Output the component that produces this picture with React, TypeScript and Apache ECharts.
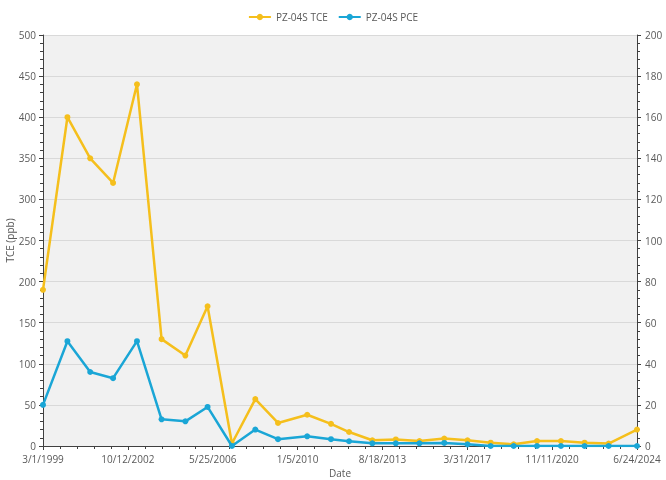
import React, { useEffect, useRef } from "react";
import * as echarts from "echarts";

const sampleDates = [
  "1999-03-01", "2000-03-15", "2001-03-05", "2002-02-24", "2003-03-03", "2004-03-20",
  "2005-03-25", "2006-03-06", "2007-03-20", "2008-03-18", "2009-03-06", "2010-06-04",
  "2011-06-09", "2012-03-17", "2013-03-14", "2014-03-14", "2015-03-17", "2016-04-06",
  "2017-04-03", "2018-03-30", "2019-03-23", "2020-03-20", "2021-03-28", "2022-03-31",
  "2023-04-09", "2024-06-24",
];
const tceValues = [190, 400, 350, 320, 440, 130, 110, 170, 3, 57, 28, 38, 27, 17, 7, 8, 6, 9, 7, 4, 2, 6, 6, 4, 3, 20];
const pceValues = [20, 51, 36, 33, 51, 13, 12, 19, 0, 8, 3.3, 4.7, 3.3, 2.3, 1.3, 1.3, 1.3, 1.5, 0.8, 0, 0, 0, 0, 0, 0, 0];

const axisStartDate = "1999-03-01";
const axisSpanDays = 9247;
const axisStepDays = 1321;
const leftAxisMax = 500;
const leftAxisStep = 50;
const rightAxisMax = 200;
const rightAxisStep = 20;

const DAY = 86400000;
const startMs = Date.parse(axisStartDate + "T00:00:00Z");
const toOffset = (d: string) => Math.round((Date.parse(d + "T00:00:00Z") - startMs) / DAY);
const fmtDate = (off: number) => {
  const d = new Date(startMs + off * DAY);
  return `${d.getUTCMonth() + 1}/${d.getUTCDate()}/${d.getUTCFullYear()}`;
};

const labelColor = "#595959";
const axisColor = "#404040";
const font = "'Open Sans', 'DejaVu Sans', sans-serif";

export default function App() {
  const ref = useRef<HTMLDivElement>(null);
  useEffect(() => {
    if (!ref.current) return;
    const chart = echarts.init(ref.current, undefined, { renderer: "svg" });
    const tceData = sampleDates.map((d, i) => [toOffset(d), tceValues[i]]);
    const pceData = sampleDates.map((d, i) => [toOffset(d), pceValues[i]]);
    chart.setOption({
      animation: false,
      textStyle: { fontFamily: font },
      legend: {
        top: 7,
        left: "center",
        itemWidth: 22,
        itemHeight: 8,
        itemGap: 10,
        textStyle: { color: labelColor, fontSize: 10, fontFamily: font },
        data: ["PZ-04S TCE", "PZ-04S PCE"],
      },
      grid: {
        left: 43,
        right: 29,
        top: 35,
        bottom: 34,
        outerBoundsMode: "none",
        containLabel: false,
        show: true,
        backgroundColor: "#f1f1f1",
        borderWidth: 0,
      },
      xAxis: {
        type: "value",
        min: 0,
        max: axisSpanDays,
        interval: axisStepDays,
        name: "Date",
        nameLocation: "middle",
        nameGap: 22,
        nameMoveOverlap: false,
        nameTextStyle: { color: labelColor, fontSize: 10, fontFamily: font },
        axisLine: { show: true, onZero: false, lineStyle: { color: axisColor, width: 1 } },
        axisTick: { show: true, length: 4, lineStyle: { color: axisColor } },
        minorTick: { show: true, splitNumber: 5, length: 3, lineStyle: { color: axisColor } },
        splitLine: { show: false },
        axisLabel: {
          color: labelColor,
          fontSize: 10,
          margin: 8,
          formatter: (v: number) => fmtDate(v),
        },
      },
      yAxis: [
        {
          type: "value",
          min: 0,
          max: leftAxisMax,
          interval: leftAxisStep,
          name: "TCE (ppb)",
          nameLocation: "middle",
          nameGap: 28,
          nameRotate: 90,
          nameMoveOverlap: false,
          nameTextStyle: { color: labelColor, fontSize: 10, fontFamily: font },
          axisLine: { show: true, lineStyle: { color: axisColor, width: 1 } },
          axisTick: { show: true, length: 4, lineStyle: { color: axisColor } },
          minorTick: { show: true, splitNumber: 5, length: 3, lineStyle: { color: axisColor } },
          splitLine: { show: true, lineStyle: { color: "#d9d9d9", width: 1 } },
          axisLabel: { color: labelColor, fontSize: 10, margin: 7 },
        },
        {
          type: "value",
          min: 0,
          max: rightAxisMax,
          interval: rightAxisStep,
          position: "right",
          axisLine: { show: true, lineStyle: { color: axisColor, width: 1 } },
          axisTick: { show: true, length: 4, lineStyle: { color: axisColor } },
          minorTick: { show: true, splitNumber: 5, length: 3, lineStyle: { color: axisColor } },
          splitLine: { show: false },
          axisLabel: { color: labelColor, fontSize: 10, margin: 8 },
        },
      ],
      series: [
        {
          name: "PZ-04S TCE",
          type: "line",
          yAxisIndex: 0,
          data: tceData,
          symbol: "circle",
          symbolSize: 6,
          lineStyle: { color: "#f5bf1c", width: 2.5 },
          itemStyle: { color: "#f5bf1c" },
          z: 2,
        },
        {
          name: "PZ-04S PCE",
          type: "line",
          yAxisIndex: 1,
          data: pceData,
          symbol: "circle",
          symbolSize: 6,
          lineStyle: { color: "#1aa6d6", width: 2.5 },
          itemStyle: { color: "#1aa6d6" },
          z: 3,
        },
      ],
    });
    return () => chart.dispose();
  }, []);
  return (
    <div
      ref={ref}
      style={{ position: "fixed", left: 0, top: 0, width: 666, height: 480 }}
    />
  );
}
